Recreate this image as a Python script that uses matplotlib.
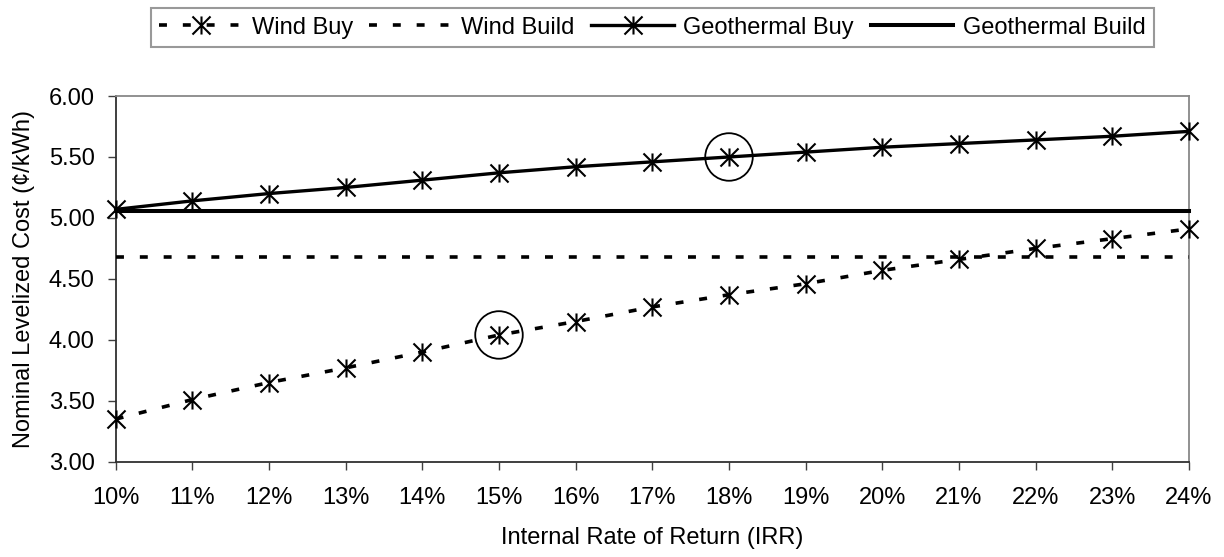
import matplotlib
matplotlib.use("Agg")
import matplotlib.pyplot as plt
from matplotlib.path import Path
from matplotlib.patches import Ellipse

irr = [10, 11, 12, 13, 14, 15, 16, 17, 18, 19, 20, 21, 22, 23, 24]
wind_buy = [3.35, 3.51, 3.65, 3.77, 3.90, 4.04, 4.15, 4.27, 4.37, 4.46, 4.57, 4.66, 4.75, 4.83, 4.91]
wind_build = [4.68] * 15
geo_buy = [5.07, 5.14, 5.20, 5.25, 5.31, 5.37, 5.42, 5.46, 5.50, 5.54, 5.58, 5.61, 5.64, 5.67, 5.71]
geo_build = [5.06] * 15
x_labels = [f"{v}%" for v in irr]
y_ticks = [3.0, 3.5, 4.0, 4.5, 5.0, 5.5, 6.0]
highlight = [(15, 4.04), (18, 5.50)]

plt.rcParams['font.family'] = ['Liberation Sans', 'DejaVu Sans']
plt.rcParams['font.size'] = 17

# asterisk marker: X plus vertical bar
ast = Path([(-1, -1), (1, 1), (-1, 1), (1, -1), (0, -1), (0, 1)],
           [Path.MOVETO, Path.LINETO, Path.MOVETO, Path.LINETO, Path.MOVETO, Path.LINETO])

fig = plt.figure(figsize=(12.24, 5.57), dpi=100)
ax = fig.add_axes([0.0945, 0.171, 0.8769, 0.6566])

dash = (2.2, 4.4)
l1, = ax.plot(irr, wind_buy, color='black', lw=2.6, linestyle=(0, dash),
              marker=ast, markersize=13, markeredgewidth=1.5, markerfacecolor='none',
              label='Wind Buy', clip_on=False, zorder=3)
l2, = ax.plot(irr, wind_build, color='black', lw=2.6, linestyle=(0, dash),
              label='Wind Build', clip_on=False, zorder=3)
l3, = ax.plot(irr, geo_buy, color='black', lw=2.4, linestyle='-',
              marker=ast, markersize=13, markeredgewidth=1.5, markerfacecolor='none',
              label='Geothermal Buy', clip_on=False, zorder=3)
l4, = ax.plot(irr, geo_build, color='black', lw=2.9, linestyle='-',
              label='Geothermal Build', clip_on=False, zorder=3)

for (hx, hy) in highlight:
    ax.add_patch(Ellipse((hx, hy), width=0.62, height=0.39, fill=False,
                         edgecolor='black', lw=1.3, zorder=4))

ax.set_xlim(10, 24)
ax.set_ylim(3.0, 6.0)
ax.set_xticks(irr)
ax.set_xticklabels(x_labels)
ax.set_yticks(y_ticks)
ax.set_yticklabels([f"{v:.2f}" for v in y_ticks])
ax.tick_params(direction='out', length=6, width=1, colors='#404040', labelcolor='black', pad=9)
ax.tick_params(axis='x', pad=12)

for s in ['left', 'bottom']:
    ax.spines[s].set_color('#303030')
    ax.spines[s].set_linewidth(1.3)
for s in ['top', 'right']:
    ax.spines[s].set_color('#888888')
    ax.spines[s].set_linewidth(1.3)

ax.set_xlabel('Internal Rate of Return (IRR)', labelpad=13)
ax.set_ylabel('Nominal Levelized Cost (¢/kWh)', labelpad=10)

leg = fig.legend(handles=[l1, l2, l3, l4], loc='center', bbox_to_anchor=(0.533, 0.9506),
                 ncol=4, frameon=True, fancybox=False, numpoints=1, handlelength=3.5,
                 handletextpad=0.4, columnspacing=0.7, borderpad=0.35, fontsize=17)
leg.get_frame().set_edgecolor('#808080')
leg.get_frame().set_linewidth(1.5)

fig.savefig('out.png', dpi=100)
